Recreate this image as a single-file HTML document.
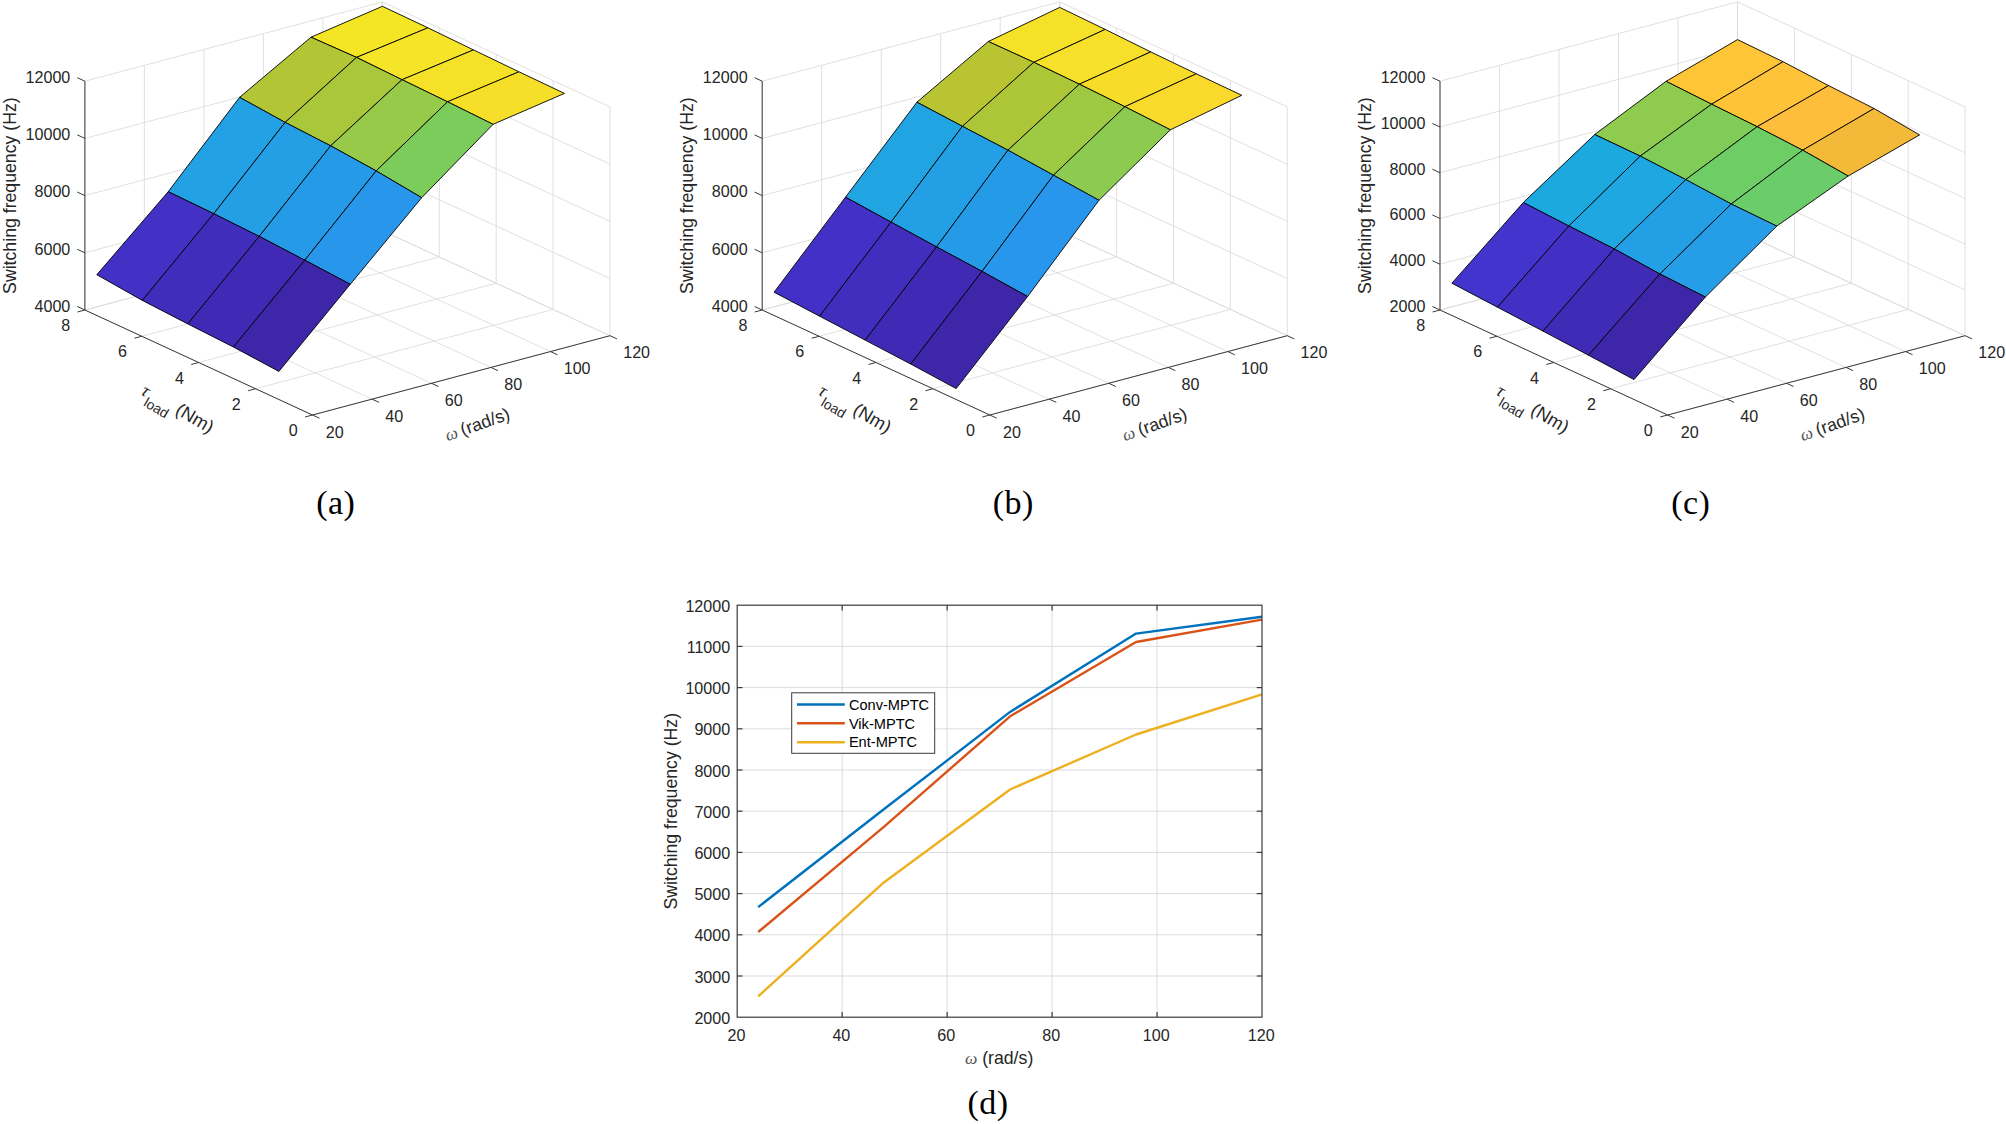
<!DOCTYPE html>
<html lang="en"><head><meta charset="utf-8"><title>Switching frequency figure</title>
<style>html,body{margin:0;padding:0;background:#fff}body{width:2006px;height:1124px;overflow:hidden}svg{display:block}</style>
</head><body>
<svg width="2006" height="1124" viewBox="0 0 2006 1124">
<rect width="2006" height="1124" fill="#fff"/>
<g>
<g stroke-linecap="butt">
<line x1="312.5" y1="415" x2="84.9" y2="310" stroke="#DCDCDC" stroke-width="0.9"/>
<line x1="84.9" y1="310" x2="84.9" y2="81.2" stroke="#DCDCDC" stroke-width="0.9"/>
<line x1="372" y1="399.14" x2="144.4" y2="294.14" stroke="#DCDCDC" stroke-width="0.9"/>
<line x1="144.4" y1="294.14" x2="144.4" y2="65.34" stroke="#DCDCDC" stroke-width="0.9"/>
<line x1="431.5" y1="383.28" x2="203.9" y2="278.28" stroke="#DCDCDC" stroke-width="0.9"/>
<line x1="203.9" y1="278.28" x2="203.9" y2="49.48" stroke="#DCDCDC" stroke-width="0.9"/>
<line x1="491" y1="367.42" x2="263.4" y2="262.42" stroke="#DCDCDC" stroke-width="0.9"/>
<line x1="263.4" y1="262.42" x2="263.4" y2="33.62" stroke="#DCDCDC" stroke-width="0.9"/>
<line x1="550.5" y1="351.56" x2="322.9" y2="246.56" stroke="#DCDCDC" stroke-width="0.9"/>
<line x1="322.9" y1="246.56" x2="322.9" y2="17.76" stroke="#DCDCDC" stroke-width="0.9"/>
<line x1="610" y1="335.7" x2="382.4" y2="230.7" stroke="#DCDCDC" stroke-width="0.9"/>
<line x1="382.4" y1="230.7" x2="382.4" y2="1.9" stroke="#DCDCDC" stroke-width="0.9"/>
<line x1="312.5" y1="415" x2="610" y2="335.7" stroke="#DCDCDC" stroke-width="0.9"/>
<line x1="610" y1="335.7" x2="610" y2="106.9" stroke="#DCDCDC" stroke-width="0.9"/>
<line x1="255.6" y1="388.75" x2="553.1" y2="309.45" stroke="#DCDCDC" stroke-width="0.9"/>
<line x1="553.1" y1="309.45" x2="553.1" y2="80.65" stroke="#DCDCDC" stroke-width="0.9"/>
<line x1="198.7" y1="362.5" x2="496.2" y2="283.2" stroke="#DCDCDC" stroke-width="0.9"/>
<line x1="496.2" y1="283.2" x2="496.2" y2="54.4" stroke="#DCDCDC" stroke-width="0.9"/>
<line x1="141.8" y1="336.25" x2="439.3" y2="256.95" stroke="#DCDCDC" stroke-width="0.9"/>
<line x1="439.3" y1="256.95" x2="439.3" y2="28.15" stroke="#DCDCDC" stroke-width="0.9"/>
<line x1="84.9" y1="310" x2="382.4" y2="230.7" stroke="#DCDCDC" stroke-width="0.9"/>
<line x1="382.4" y1="230.7" x2="382.4" y2="1.9" stroke="#DCDCDC" stroke-width="0.9"/>
<line x1="84.9" y1="310" x2="382.4" y2="230.7" stroke="#DCDCDC" stroke-width="0.9"/>
<line x1="382.4" y1="230.7" x2="610" y2="335.7" stroke="#DCDCDC" stroke-width="0.9"/>
<line x1="84.9" y1="252.8" x2="382.4" y2="173.5" stroke="#DCDCDC" stroke-width="0.9"/>
<line x1="382.4" y1="173.5" x2="610" y2="278.5" stroke="#DCDCDC" stroke-width="0.9"/>
<line x1="84.9" y1="195.6" x2="382.4" y2="116.3" stroke="#DCDCDC" stroke-width="0.9"/>
<line x1="382.4" y1="116.3" x2="610" y2="221.3" stroke="#DCDCDC" stroke-width="0.9"/>
<line x1="84.9" y1="138.4" x2="382.4" y2="59.1" stroke="#DCDCDC" stroke-width="0.9"/>
<line x1="382.4" y1="59.1" x2="610" y2="164.1" stroke="#DCDCDC" stroke-width="0.9"/>
<line x1="84.9" y1="81.2" x2="382.4" y2="1.9" stroke="#DCDCDC" stroke-width="0.9"/>
<line x1="382.4" y1="1.9" x2="610" y2="106.9" stroke="#DCDCDC" stroke-width="0.9"/>
</g>
<g stroke="#000" stroke-width="0.9" stroke-linejoin="round">
<polygon points="311,37.2 356.52,57.4 427.92,27.8 382.4,6.3" fill="#F5E625"/>
<polygon points="356.52,57.4 402.04,79.7 473.44,49.9 427.92,27.8" fill="#F5E427"/>
<polygon points="402.04,79.7 447.56,101.8 518.96,71.8 473.44,49.9" fill="#F5E228"/>
<polygon points="447.56,101.8 493.08,124.3 564.48,93.4 518.96,71.8" fill="#F6DF29"/>
<polygon points="239.6,97.3 285.12,122.4 356.52,57.4 311,37.2" fill="#B2C635"/>
<polygon points="285.12,122.4 330.64,145.8 402.04,79.7 356.52,57.4" fill="#A8C73B"/>
<polygon points="330.64,145.8 376.16,170.9 447.56,101.8 402.04,79.7" fill="#96CA48"/>
<polygon points="376.16,170.9 421.68,197.7 493.08,124.3 447.56,101.8" fill="#7CCC5C"/>
<polygon points="168.2,191.7 213.72,213.7 285.12,122.4 239.6,97.3" fill="#22A1E4"/>
<polygon points="213.72,213.7 259.24,236.4 330.64,145.8 285.12,122.4" fill="#249FE6"/>
<polygon points="259.24,236.4 304.76,260.2 376.16,170.9 330.64,145.8" fill="#259BE8"/>
<polygon points="304.76,260.2 350.28,284.3 421.68,197.7 376.16,170.9" fill="#2896EB"/>
<polygon points="96.8,274.7 142.32,300.4 213.72,213.7 168.2,191.7" fill="#4330C5"/>
<polygon points="142.32,300.4 187.84,323.9 259.24,236.4 213.72,213.7" fill="#412DBC"/>
<polygon points="187.84,323.9 233.36,347 304.76,260.2 259.24,236.4" fill="#402AB5"/>
<polygon points="233.36,347 278.88,371.4 350.28,284.3 304.76,260.2" fill="#3E26A8"/>
</g>
<g stroke-linecap="butt">
<line x1="84.9" y1="310" x2="84.9" y2="81.2" stroke="#3A3A3A" stroke-width="1"/>
<line x1="84.9" y1="310" x2="312.5" y2="415" stroke="#3A3A3A" stroke-width="1"/>
<line x1="312.5" y1="415" x2="610" y2="335.7" stroke="#3A3A3A" stroke-width="1"/>
<line x1="84.9" y1="310" x2="77.27" y2="306.48" stroke="#3A3A3A" stroke-width="1"/>
<line x1="84.9" y1="252.8" x2="77.27" y2="249.28" stroke="#3A3A3A" stroke-width="1"/>
<line x1="84.9" y1="195.6" x2="77.27" y2="192.08" stroke="#3A3A3A" stroke-width="1"/>
<line x1="84.9" y1="138.4" x2="77.27" y2="134.88" stroke="#3A3A3A" stroke-width="1"/>
<line x1="84.9" y1="81.2" x2="77.27" y2="77.68" stroke="#3A3A3A" stroke-width="1"/>
<line x1="312.5" y1="415" x2="305.06" y2="416.98" stroke="#3A3A3A" stroke-width="1"/>
<line x1="255.6" y1="388.75" x2="248.16" y2="390.73" stroke="#3A3A3A" stroke-width="1"/>
<line x1="198.7" y1="362.5" x2="191.26" y2="364.48" stroke="#3A3A3A" stroke-width="1"/>
<line x1="141.8" y1="336.25" x2="134.36" y2="338.23" stroke="#3A3A3A" stroke-width="1"/>
<line x1="84.9" y1="310" x2="77.46" y2="311.98" stroke="#3A3A3A" stroke-width="1"/>
<line x1="312.5" y1="415" x2="319.49" y2="418.23" stroke="#3A3A3A" stroke-width="1"/>
<line x1="372" y1="399.14" x2="378.99" y2="402.37" stroke="#3A3A3A" stroke-width="1"/>
<line x1="431.5" y1="383.28" x2="438.49" y2="386.51" stroke="#3A3A3A" stroke-width="1"/>
<line x1="491" y1="367.42" x2="497.99" y2="370.65" stroke="#3A3A3A" stroke-width="1"/>
<line x1="550.5" y1="351.56" x2="557.49" y2="354.79" stroke="#3A3A3A" stroke-width="1"/>
<line x1="610" y1="335.7" x2="616.99" y2="338.93" stroke="#3A3A3A" stroke-width="1"/>
</g>
<g font-family="'Liberation Sans', Arial, Helvetica, sans-serif" font-size="16.1" fill="#262626">
<text x="70.3" y="311.8" text-anchor="end">4000</text>
<text x="70.3" y="254.6" text-anchor="end">6000</text>
<text x="70.3" y="197.4" text-anchor="end">8000</text>
<text x="70.3" y="140.2" text-anchor="end">10000</text>
<text x="70.3" y="83" text-anchor="end">12000</text>
<text x="297.7" y="436.2" text-anchor="end">0</text>
<text x="240.8" y="409.95" text-anchor="end">2</text>
<text x="183.9" y="383.7" text-anchor="end">4</text>
<text x="127" y="357.45" text-anchor="end">6</text>
<text x="70.1" y="331.2" text-anchor="end">8</text>
<text x="325.7" y="437.5">20</text>
<text x="385.2" y="421.64">40</text>
<text x="444.7" y="405.78">60</text>
<text x="504.2" y="389.92">80</text>
<text x="563.7" y="374.06">100</text>
<text x="623.2" y="358.2">120</text>
</g>
<text transform="translate(16.1,195.6) rotate(-90)" text-anchor="middle" font-family="'Liberation Sans', Arial, Helvetica, sans-serif" font-size="17.7" fill="#262626">Switching frequency (Hz)</text>
<text transform="translate(143.4,405.8) rotate(30.5)" font-family="'Liberation Sans', Arial, Helvetica, sans-serif" font-size="17.7" fill="#262626"><tspan x="-8.9" y="-8.4" font-family="'Liberation Serif', 'DejaVu Serif', serif" font-style="italic" font-size="18.5">τ</tspan><tspan x="-0.9" y="0" font-size="13.8">load</tspan><tspan x="25.4" y="-9.3" font-size="18.3"> (Nm)</tspan></text>
<text transform="translate(448.9,440.8) rotate(-19.5)" font-family="'Liberation Sans', Arial, Helvetica, sans-serif" font-size="17.7" fill="#262626"><tspan x="-1.6" y="0" font-family="'Liberation Serif', 'DejaVu Serif', serif" font-style="italic" font-size="17.5" fill="#555">ω</tspan><tspan x="9.9" y="0"> (rad/s)</tspan></text>
<text x="335.8" y="513.6" text-anchor="middle" font-family="'Liberation Serif', 'DejaVu Serif', serif" font-size="34" letter-spacing="0.4" fill="#000">(a)</text>
</g>
<g>
<g stroke-linecap="butt">
<line x1="989.8" y1="415" x2="762.2" y2="310" stroke="#DCDCDC" stroke-width="0.9"/>
<line x1="762.2" y1="310" x2="762.2" y2="81.2" stroke="#DCDCDC" stroke-width="0.9"/>
<line x1="1049.3" y1="399.14" x2="821.7" y2="294.14" stroke="#DCDCDC" stroke-width="0.9"/>
<line x1="821.7" y1="294.14" x2="821.7" y2="65.34" stroke="#DCDCDC" stroke-width="0.9"/>
<line x1="1108.8" y1="383.28" x2="881.2" y2="278.28" stroke="#DCDCDC" stroke-width="0.9"/>
<line x1="881.2" y1="278.28" x2="881.2" y2="49.48" stroke="#DCDCDC" stroke-width="0.9"/>
<line x1="1168.3" y1="367.42" x2="940.7" y2="262.42" stroke="#DCDCDC" stroke-width="0.9"/>
<line x1="940.7" y1="262.42" x2="940.7" y2="33.62" stroke="#DCDCDC" stroke-width="0.9"/>
<line x1="1227.8" y1="351.56" x2="1000.2" y2="246.56" stroke="#DCDCDC" stroke-width="0.9"/>
<line x1="1000.2" y1="246.56" x2="1000.2" y2="17.76" stroke="#DCDCDC" stroke-width="0.9"/>
<line x1="1287.3" y1="335.7" x2="1059.7" y2="230.7" stroke="#DCDCDC" stroke-width="0.9"/>
<line x1="1059.7" y1="230.7" x2="1059.7" y2="1.9" stroke="#DCDCDC" stroke-width="0.9"/>
<line x1="989.8" y1="415" x2="1287.3" y2="335.7" stroke="#DCDCDC" stroke-width="0.9"/>
<line x1="1287.3" y1="335.7" x2="1287.3" y2="106.9" stroke="#DCDCDC" stroke-width="0.9"/>
<line x1="932.9" y1="388.75" x2="1230.4" y2="309.45" stroke="#DCDCDC" stroke-width="0.9"/>
<line x1="1230.4" y1="309.45" x2="1230.4" y2="80.65" stroke="#DCDCDC" stroke-width="0.9"/>
<line x1="876" y1="362.5" x2="1173.5" y2="283.2" stroke="#DCDCDC" stroke-width="0.9"/>
<line x1="1173.5" y1="283.2" x2="1173.5" y2="54.4" stroke="#DCDCDC" stroke-width="0.9"/>
<line x1="819.1" y1="336.25" x2="1116.6" y2="256.95" stroke="#DCDCDC" stroke-width="0.9"/>
<line x1="1116.6" y1="256.95" x2="1116.6" y2="28.15" stroke="#DCDCDC" stroke-width="0.9"/>
<line x1="762.2" y1="310" x2="1059.7" y2="230.7" stroke="#DCDCDC" stroke-width="0.9"/>
<line x1="1059.7" y1="230.7" x2="1059.7" y2="1.9" stroke="#DCDCDC" stroke-width="0.9"/>
<line x1="762.2" y1="310" x2="1059.7" y2="230.7" stroke="#DCDCDC" stroke-width="0.9"/>
<line x1="1059.7" y1="230.7" x2="1287.3" y2="335.7" stroke="#DCDCDC" stroke-width="0.9"/>
<line x1="762.2" y1="252.8" x2="1059.7" y2="173.5" stroke="#DCDCDC" stroke-width="0.9"/>
<line x1="1059.7" y1="173.5" x2="1287.3" y2="278.5" stroke="#DCDCDC" stroke-width="0.9"/>
<line x1="762.2" y1="195.6" x2="1059.7" y2="116.3" stroke="#DCDCDC" stroke-width="0.9"/>
<line x1="1059.7" y1="116.3" x2="1287.3" y2="221.3" stroke="#DCDCDC" stroke-width="0.9"/>
<line x1="762.2" y1="138.4" x2="1059.7" y2="59.1" stroke="#DCDCDC" stroke-width="0.9"/>
<line x1="1059.7" y1="59.1" x2="1287.3" y2="164.1" stroke="#DCDCDC" stroke-width="0.9"/>
<line x1="762.2" y1="81.2" x2="1059.7" y2="1.9" stroke="#DCDCDC" stroke-width="0.9"/>
<line x1="1059.7" y1="1.9" x2="1287.3" y2="106.9" stroke="#DCDCDC" stroke-width="0.9"/>
</g>
<g stroke="#000" stroke-width="0.9" stroke-linejoin="round">
<polygon points="988.3,41.5 1033.82,62.3 1105.22,29.4 1059.7,7.4" fill="#F5E128"/>
<polygon points="1033.82,62.3 1079.34,84.2 1150.74,51.9 1105.22,29.4" fill="#F6E029"/>
<polygon points="1079.34,84.2 1124.86,106.7 1196.26,73.8 1150.74,51.9" fill="#F7DD2A"/>
<polygon points="1124.86,106.7 1170.38,129.8 1241.78,95.3 1196.26,73.8" fill="#F8D92C"/>
<polygon points="916.9,102.2 962.42,126.3 1033.82,62.3 988.3,41.5" fill="#B8C431"/>
<polygon points="962.42,126.3 1007.94,150.2 1079.34,84.2 1033.82,62.3" fill="#ADC638"/>
<polygon points="1007.94,150.2 1053.46,175.2 1124.86,106.7 1079.34,84.2" fill="#9DC943"/>
<polygon points="1053.46,175.2 1098.98,200.3 1170.38,129.8 1124.86,106.7" fill="#8CCB50"/>
<polygon points="845.5,197.2 891.02,222.1 962.42,126.3 916.9,102.2" fill="#20A5E2"/>
<polygon points="891.02,222.1 936.54,246.9 1007.94,150.2 962.42,126.3" fill="#23A0E5"/>
<polygon points="936.54,246.9 982.06,271.4 1053.46,175.2 1007.94,150.2" fill="#259BE8"/>
<polygon points="982.06,271.4 1027.58,296.5 1098.98,200.3 1053.46,175.2" fill="#2896EC"/>
<polygon points="774.1,292.2 819.62,316.2 891.02,222.1 845.5,197.2" fill="#4331C7"/>
<polygon points="819.62,316.2 865.14,340.1 936.54,246.9 891.02,222.1" fill="#412EBE"/>
<polygon points="865.14,340.1 910.66,364 982.06,271.4 936.54,246.9" fill="#402AB5"/>
<polygon points="910.66,364 956.18,388.6 1027.58,296.5 982.06,271.4" fill="#3E26A8"/>
</g>
<g stroke-linecap="butt">
<line x1="762.2" y1="310" x2="762.2" y2="81.2" stroke="#3A3A3A" stroke-width="1"/>
<line x1="762.2" y1="310" x2="989.8" y2="415" stroke="#3A3A3A" stroke-width="1"/>
<line x1="989.8" y1="415" x2="1287.3" y2="335.7" stroke="#3A3A3A" stroke-width="1"/>
<line x1="762.2" y1="310" x2="754.57" y2="306.48" stroke="#3A3A3A" stroke-width="1"/>
<line x1="762.2" y1="252.8" x2="754.57" y2="249.28" stroke="#3A3A3A" stroke-width="1"/>
<line x1="762.2" y1="195.6" x2="754.57" y2="192.08" stroke="#3A3A3A" stroke-width="1"/>
<line x1="762.2" y1="138.4" x2="754.57" y2="134.88" stroke="#3A3A3A" stroke-width="1"/>
<line x1="762.2" y1="81.2" x2="754.57" y2="77.68" stroke="#3A3A3A" stroke-width="1"/>
<line x1="989.8" y1="415" x2="982.36" y2="416.98" stroke="#3A3A3A" stroke-width="1"/>
<line x1="932.9" y1="388.75" x2="925.46" y2="390.73" stroke="#3A3A3A" stroke-width="1"/>
<line x1="876" y1="362.5" x2="868.56" y2="364.48" stroke="#3A3A3A" stroke-width="1"/>
<line x1="819.1" y1="336.25" x2="811.66" y2="338.23" stroke="#3A3A3A" stroke-width="1"/>
<line x1="762.2" y1="310" x2="754.76" y2="311.98" stroke="#3A3A3A" stroke-width="1"/>
<line x1="989.8" y1="415" x2="996.79" y2="418.23" stroke="#3A3A3A" stroke-width="1"/>
<line x1="1049.3" y1="399.14" x2="1056.29" y2="402.37" stroke="#3A3A3A" stroke-width="1"/>
<line x1="1108.8" y1="383.28" x2="1115.79" y2="386.51" stroke="#3A3A3A" stroke-width="1"/>
<line x1="1168.3" y1="367.42" x2="1175.29" y2="370.65" stroke="#3A3A3A" stroke-width="1"/>
<line x1="1227.8" y1="351.56" x2="1234.79" y2="354.79" stroke="#3A3A3A" stroke-width="1"/>
<line x1="1287.3" y1="335.7" x2="1294.29" y2="338.93" stroke="#3A3A3A" stroke-width="1"/>
</g>
<g font-family="'Liberation Sans', Arial, Helvetica, sans-serif" font-size="16.1" fill="#262626">
<text x="747.6" y="311.8" text-anchor="end">4000</text>
<text x="747.6" y="254.6" text-anchor="end">6000</text>
<text x="747.6" y="197.4" text-anchor="end">8000</text>
<text x="747.6" y="140.2" text-anchor="end">10000</text>
<text x="747.6" y="83" text-anchor="end">12000</text>
<text x="975" y="436.2" text-anchor="end">0</text>
<text x="918.1" y="409.95" text-anchor="end">2</text>
<text x="861.2" y="383.7" text-anchor="end">4</text>
<text x="804.3" y="357.45" text-anchor="end">6</text>
<text x="747.4" y="331.2" text-anchor="end">8</text>
<text x="1003" y="437.5">20</text>
<text x="1062.5" y="421.64">40</text>
<text x="1122" y="405.78">60</text>
<text x="1181.5" y="389.92">80</text>
<text x="1241" y="374.06">100</text>
<text x="1300.5" y="358.2">120</text>
</g>
<text transform="translate(693.4,195.6) rotate(-90)" text-anchor="middle" font-family="'Liberation Sans', Arial, Helvetica, sans-serif" font-size="17.7" fill="#262626">Switching frequency (Hz)</text>
<text transform="translate(820.7,405.8) rotate(30.5)" font-family="'Liberation Sans', Arial, Helvetica, sans-serif" font-size="17.7" fill="#262626"><tspan x="-8.9" y="-8.4" font-family="'Liberation Serif', 'DejaVu Serif', serif" font-style="italic" font-size="18.5">τ</tspan><tspan x="-0.9" y="0" font-size="13.8">load</tspan><tspan x="25.4" y="-9.3" font-size="18.3"> (Nm)</tspan></text>
<text transform="translate(1126.2,440.8) rotate(-19.5)" font-family="'Liberation Sans', Arial, Helvetica, sans-serif" font-size="17.7" fill="#262626"><tspan x="-1.6" y="0" font-family="'Liberation Serif', 'DejaVu Serif', serif" font-style="italic" font-size="17.5" fill="#555">ω</tspan><tspan x="9.9" y="0"> (rad/s)</tspan></text>
<text x="1013.2" y="513.6" text-anchor="middle" font-family="'Liberation Serif', 'DejaVu Serif', serif" font-size="34" letter-spacing="0.4" fill="#000">(b)</text>
</g>
<g>
<g stroke-linecap="butt">
<line x1="1667.6" y1="415" x2="1440" y2="310" stroke="#DCDCDC" stroke-width="0.9"/>
<line x1="1440" y1="310" x2="1440" y2="81.2" stroke="#DCDCDC" stroke-width="0.9"/>
<line x1="1727.1" y1="399.14" x2="1499.5" y2="294.14" stroke="#DCDCDC" stroke-width="0.9"/>
<line x1="1499.5" y1="294.14" x2="1499.5" y2="65.34" stroke="#DCDCDC" stroke-width="0.9"/>
<line x1="1786.6" y1="383.28" x2="1559" y2="278.28" stroke="#DCDCDC" stroke-width="0.9"/>
<line x1="1559" y1="278.28" x2="1559" y2="49.48" stroke="#DCDCDC" stroke-width="0.9"/>
<line x1="1846.1" y1="367.42" x2="1618.5" y2="262.42" stroke="#DCDCDC" stroke-width="0.9"/>
<line x1="1618.5" y1="262.42" x2="1618.5" y2="33.62" stroke="#DCDCDC" stroke-width="0.9"/>
<line x1="1905.6" y1="351.56" x2="1678" y2="246.56" stroke="#DCDCDC" stroke-width="0.9"/>
<line x1="1678" y1="246.56" x2="1678" y2="17.76" stroke="#DCDCDC" stroke-width="0.9"/>
<line x1="1965.1" y1="335.7" x2="1737.5" y2="230.7" stroke="#DCDCDC" stroke-width="0.9"/>
<line x1="1737.5" y1="230.7" x2="1737.5" y2="1.9" stroke="#DCDCDC" stroke-width="0.9"/>
<line x1="1667.6" y1="415" x2="1965.1" y2="335.7" stroke="#DCDCDC" stroke-width="0.9"/>
<line x1="1965.1" y1="335.7" x2="1965.1" y2="106.9" stroke="#DCDCDC" stroke-width="0.9"/>
<line x1="1610.7" y1="388.75" x2="1908.2" y2="309.45" stroke="#DCDCDC" stroke-width="0.9"/>
<line x1="1908.2" y1="309.45" x2="1908.2" y2="80.65" stroke="#DCDCDC" stroke-width="0.9"/>
<line x1="1553.8" y1="362.5" x2="1851.3" y2="283.2" stroke="#DCDCDC" stroke-width="0.9"/>
<line x1="1851.3" y1="283.2" x2="1851.3" y2="54.4" stroke="#DCDCDC" stroke-width="0.9"/>
<line x1="1496.9" y1="336.25" x2="1794.4" y2="256.95" stroke="#DCDCDC" stroke-width="0.9"/>
<line x1="1794.4" y1="256.95" x2="1794.4" y2="28.15" stroke="#DCDCDC" stroke-width="0.9"/>
<line x1="1440" y1="310" x2="1737.5" y2="230.7" stroke="#DCDCDC" stroke-width="0.9"/>
<line x1="1737.5" y1="230.7" x2="1737.5" y2="1.9" stroke="#DCDCDC" stroke-width="0.9"/>
<line x1="1440" y1="310" x2="1737.5" y2="230.7" stroke="#DCDCDC" stroke-width="0.9"/>
<line x1="1737.5" y1="230.7" x2="1965.1" y2="335.7" stroke="#DCDCDC" stroke-width="0.9"/>
<line x1="1440" y1="264.24" x2="1737.5" y2="184.94" stroke="#DCDCDC" stroke-width="0.9"/>
<line x1="1737.5" y1="184.94" x2="1965.1" y2="289.94" stroke="#DCDCDC" stroke-width="0.9"/>
<line x1="1440" y1="218.48" x2="1737.5" y2="139.18" stroke="#DCDCDC" stroke-width="0.9"/>
<line x1="1737.5" y1="139.18" x2="1965.1" y2="244.18" stroke="#DCDCDC" stroke-width="0.9"/>
<line x1="1440" y1="172.72" x2="1737.5" y2="93.42" stroke="#DCDCDC" stroke-width="0.9"/>
<line x1="1737.5" y1="93.42" x2="1965.1" y2="198.42" stroke="#DCDCDC" stroke-width="0.9"/>
<line x1="1440" y1="126.96" x2="1737.5" y2="47.66" stroke="#DCDCDC" stroke-width="0.9"/>
<line x1="1737.5" y1="47.66" x2="1965.1" y2="152.66" stroke="#DCDCDC" stroke-width="0.9"/>
<line x1="1440" y1="81.2" x2="1737.5" y2="1.9" stroke="#DCDCDC" stroke-width="0.9"/>
<line x1="1737.5" y1="1.9" x2="1965.1" y2="106.9" stroke="#DCDCDC" stroke-width="0.9"/>
</g>
<g stroke="#000" stroke-width="0.9" stroke-linejoin="round">
<polygon points="1666.1,81.3 1711.62,104.2 1783.02,61.7 1737.5,39.6" fill="#FEC636"/>
<polygon points="1711.62,104.2 1757.14,126.7 1828.54,85.6 1783.02,61.7" fill="#FEC339"/>
<polygon points="1757.14,126.7 1802.66,150.2 1874.06,108.5 1828.54,85.6" fill="#FEBE3C"/>
<polygon points="1802.66,150.2 1848.18,176 1919.58,134.9 1874.06,108.5" fill="#F2BA38"/>
<polygon points="1594.7,134.5 1640.22,156.1 1711.62,104.2 1666.1,81.3" fill="#8ECB4F"/>
<polygon points="1640.22,156.1 1685.74,179.6 1757.14,126.7 1711.62,104.2" fill="#81CC59"/>
<polygon points="1685.74,179.6 1731.26,204 1802.66,150.2 1757.14,126.7" fill="#6FCD66"/>
<polygon points="1731.26,204 1776.78,226.1 1848.18,176 1802.66,150.2" fill="#6ACD6A"/>
<polygon points="1523.3,202.5 1568.82,226 1640.22,156.1 1594.7,134.5" fill="#1CA9DF"/>
<polygon points="1568.82,226 1614.34,248.9 1685.74,179.6 1640.22,156.1" fill="#1EA7E1"/>
<polygon points="1614.34,248.9 1659.86,274 1731.26,204 1685.74,179.6" fill="#23A0E5"/>
<polygon points="1659.86,274 1705.38,297 1776.78,226.1 1731.26,204" fill="#259DE7"/>
<polygon points="1451.9,283.2 1497.42,307.2 1568.82,226 1523.3,202.5" fill="#4434CE"/>
<polygon points="1497.42,307.2 1542.94,331.1 1614.34,248.9 1568.82,226" fill="#422FC3"/>
<polygon points="1542.94,331.1 1588.46,355.2 1659.86,274 1614.34,248.9" fill="#402BB7"/>
<polygon points="1588.46,355.2 1633.98,379.6 1705.38,297 1659.86,274" fill="#3E26A8"/>
</g>
<g stroke-linecap="butt">
<line x1="1440" y1="310" x2="1440" y2="81.2" stroke="#3A3A3A" stroke-width="1"/>
<line x1="1440" y1="310" x2="1667.6" y2="415" stroke="#3A3A3A" stroke-width="1"/>
<line x1="1667.6" y1="415" x2="1965.1" y2="335.7" stroke="#3A3A3A" stroke-width="1"/>
<line x1="1440" y1="310" x2="1432.37" y2="306.48" stroke="#3A3A3A" stroke-width="1"/>
<line x1="1440" y1="264.24" x2="1432.37" y2="260.72" stroke="#3A3A3A" stroke-width="1"/>
<line x1="1440" y1="218.48" x2="1432.37" y2="214.96" stroke="#3A3A3A" stroke-width="1"/>
<line x1="1440" y1="172.72" x2="1432.37" y2="169.2" stroke="#3A3A3A" stroke-width="1"/>
<line x1="1440" y1="126.96" x2="1432.37" y2="123.44" stroke="#3A3A3A" stroke-width="1"/>
<line x1="1440" y1="81.2" x2="1432.37" y2="77.68" stroke="#3A3A3A" stroke-width="1"/>
<line x1="1667.6" y1="415" x2="1660.16" y2="416.98" stroke="#3A3A3A" stroke-width="1"/>
<line x1="1610.7" y1="388.75" x2="1603.26" y2="390.73" stroke="#3A3A3A" stroke-width="1"/>
<line x1="1553.8" y1="362.5" x2="1546.36" y2="364.48" stroke="#3A3A3A" stroke-width="1"/>
<line x1="1496.9" y1="336.25" x2="1489.46" y2="338.23" stroke="#3A3A3A" stroke-width="1"/>
<line x1="1440" y1="310" x2="1432.56" y2="311.98" stroke="#3A3A3A" stroke-width="1"/>
<line x1="1667.6" y1="415" x2="1674.59" y2="418.23" stroke="#3A3A3A" stroke-width="1"/>
<line x1="1727.1" y1="399.14" x2="1734.09" y2="402.37" stroke="#3A3A3A" stroke-width="1"/>
<line x1="1786.6" y1="383.28" x2="1793.59" y2="386.51" stroke="#3A3A3A" stroke-width="1"/>
<line x1="1846.1" y1="367.42" x2="1853.09" y2="370.65" stroke="#3A3A3A" stroke-width="1"/>
<line x1="1905.6" y1="351.56" x2="1912.59" y2="354.79" stroke="#3A3A3A" stroke-width="1"/>
<line x1="1965.1" y1="335.7" x2="1972.09" y2="338.93" stroke="#3A3A3A" stroke-width="1"/>
</g>
<g font-family="'Liberation Sans', Arial, Helvetica, sans-serif" font-size="16.1" fill="#262626">
<text x="1425.4" y="311.8" text-anchor="end">2000</text>
<text x="1425.4" y="266.04" text-anchor="end">4000</text>
<text x="1425.4" y="220.28" text-anchor="end">6000</text>
<text x="1425.4" y="174.52" text-anchor="end">8000</text>
<text x="1425.4" y="128.76" text-anchor="end">10000</text>
<text x="1425.4" y="83" text-anchor="end">12000</text>
<text x="1652.8" y="436.2" text-anchor="end">0</text>
<text x="1595.9" y="409.95" text-anchor="end">2</text>
<text x="1539" y="383.7" text-anchor="end">4</text>
<text x="1482.1" y="357.45" text-anchor="end">6</text>
<text x="1425.2" y="331.2" text-anchor="end">8</text>
<text x="1680.8" y="437.5">20</text>
<text x="1740.3" y="421.64">40</text>
<text x="1799.8" y="405.78">60</text>
<text x="1859.3" y="389.92">80</text>
<text x="1918.8" y="374.06">100</text>
<text x="1978.3" y="358.2">120</text>
</g>
<text transform="translate(1371.2,195.6) rotate(-90)" text-anchor="middle" font-family="'Liberation Sans', Arial, Helvetica, sans-serif" font-size="17.7" fill="#262626">Switching frequency (Hz)</text>
<text transform="translate(1498.5,405.8) rotate(30.5)" font-family="'Liberation Sans', Arial, Helvetica, sans-serif" font-size="17.7" fill="#262626"><tspan x="-8.9" y="-8.4" font-family="'Liberation Serif', 'DejaVu Serif', serif" font-style="italic" font-size="18.5">τ</tspan><tspan x="-0.9" y="0" font-size="13.8">load</tspan><tspan x="25.4" y="-9.3" font-size="18.3"> (Nm)</tspan></text>
<text transform="translate(1804,440.8) rotate(-19.5)" font-family="'Liberation Sans', Arial, Helvetica, sans-serif" font-size="17.7" fill="#262626"><tspan x="-1.6" y="0" font-family="'Liberation Serif', 'DejaVu Serif', serif" font-style="italic" font-size="17.5" fill="#555">ω</tspan><tspan x="9.9" y="0"> (rad/s)</tspan></text>
<text x="1690.7" y="513.6" text-anchor="middle" font-family="'Liberation Serif', 'DejaVu Serif', serif" font-size="34" letter-spacing="0.4" fill="#000">(c)</text>
</g>
<g>
<g stroke="#DCDCDC" stroke-width="1">
<line x1="842.16" y1="605.2" x2="842.16" y2="1017.2"/>
<line x1="947.12" y1="605.2" x2="947.12" y2="1017.2"/>
<line x1="1052.08" y1="605.2" x2="1052.08" y2="1017.2"/>
<line x1="1157.04" y1="605.2" x2="1157.04" y2="1017.2"/>
<line x1="737.2" y1="976" x2="1262" y2="976"/>
<line x1="737.2" y1="934.8" x2="1262" y2="934.8"/>
<line x1="737.2" y1="893.6" x2="1262" y2="893.6"/>
<line x1="737.2" y1="852.4" x2="1262" y2="852.4"/>
<line x1="737.2" y1="811.2" x2="1262" y2="811.2"/>
<line x1="737.2" y1="770" x2="1262" y2="770"/>
<line x1="737.2" y1="728.8" x2="1262" y2="728.8"/>
<line x1="737.2" y1="687.6" x2="1262" y2="687.6"/>
<line x1="737.2" y1="646.4" x2="1262" y2="646.4"/>
</g>
<g fill="none" stroke-width="2.4" stroke-linejoin="round" stroke-linecap="butt">
<polyline stroke="#0072BD" points="758.19,907.11 884.14,809.06 1010.1,711.91 1136.05,633.59 1262,616.69"/>
<polyline stroke="#D95319" points="758.19,932 884.14,826.61 1010.1,716.32 1136.05,641.99 1262,619.62"/>
<polyline stroke="#EDB120" points="758.19,996.31 884.14,882.19 1010.1,789.49 1136.05,734.49 1262,694.48"/>
</g>
<g stroke="#3A3A3A" stroke-width="1.2" fill="none">
<rect x="737.2" y="605.2" width="524.8" height="412"/>
<line x1="842.16" y1="1017.2" x2="842.16" y2="1011.9"/>
<line x1="842.16" y1="605.2" x2="842.16" y2="610.5"/>
<line x1="947.12" y1="1017.2" x2="947.12" y2="1011.9"/>
<line x1="947.12" y1="605.2" x2="947.12" y2="610.5"/>
<line x1="1052.08" y1="1017.2" x2="1052.08" y2="1011.9"/>
<line x1="1052.08" y1="605.2" x2="1052.08" y2="610.5"/>
<line x1="1157.04" y1="1017.2" x2="1157.04" y2="1011.9"/>
<line x1="1157.04" y1="605.2" x2="1157.04" y2="610.5"/>
<line x1="737.2" y1="976" x2="742.5" y2="976"/>
<line x1="1262" y1="976" x2="1256.7" y2="976"/>
<line x1="737.2" y1="934.8" x2="742.5" y2="934.8"/>
<line x1="1262" y1="934.8" x2="1256.7" y2="934.8"/>
<line x1="737.2" y1="893.6" x2="742.5" y2="893.6"/>
<line x1="1262" y1="893.6" x2="1256.7" y2="893.6"/>
<line x1="737.2" y1="852.4" x2="742.5" y2="852.4"/>
<line x1="1262" y1="852.4" x2="1256.7" y2="852.4"/>
<line x1="737.2" y1="811.2" x2="742.5" y2="811.2"/>
<line x1="1262" y1="811.2" x2="1256.7" y2="811.2"/>
<line x1="737.2" y1="770" x2="742.5" y2="770"/>
<line x1="1262" y1="770" x2="1256.7" y2="770"/>
<line x1="737.2" y1="728.8" x2="742.5" y2="728.8"/>
<line x1="1262" y1="728.8" x2="1256.7" y2="728.8"/>
<line x1="737.2" y1="687.6" x2="742.5" y2="687.6"/>
<line x1="1262" y1="687.6" x2="1256.7" y2="687.6"/>
<line x1="737.2" y1="646.4" x2="742.5" y2="646.4"/>
<line x1="1262" y1="646.4" x2="1256.7" y2="646.4"/>
</g>
<g font-family="'Liberation Sans', Arial, Helvetica, sans-serif" font-size="16.1" fill="#262626">
<text x="730.2" y="1023.8" text-anchor="end">2000</text>
<text x="730.2" y="982.6" text-anchor="end">3000</text>
<text x="730.2" y="941.4" text-anchor="end">4000</text>
<text x="730.2" y="900.2" text-anchor="end">5000</text>
<text x="730.2" y="859" text-anchor="end">6000</text>
<text x="730.2" y="817.8" text-anchor="end">7000</text>
<text x="730.2" y="776.6" text-anchor="end">8000</text>
<text x="730.2" y="735.4" text-anchor="end">9000</text>
<text x="730.2" y="694.2" text-anchor="end">10000</text>
<text x="730.2" y="653" text-anchor="end">11000</text>
<text x="730.2" y="611.8" text-anchor="end">12000</text>
<text x="736.4" y="1040.6" text-anchor="middle">20</text>
<text x="841.36" y="1040.6" text-anchor="middle">40</text>
<text x="946.32" y="1040.6" text-anchor="middle">60</text>
<text x="1051.28" y="1040.6" text-anchor="middle">80</text>
<text x="1156.24" y="1040.6" text-anchor="middle">100</text>
<text x="1261.2" y="1040.6" text-anchor="middle">120</text>
</g>
<text transform="translate(676.8,811.2) rotate(-90)" text-anchor="middle" font-family="'Liberation Sans', Arial, Helvetica, sans-serif" font-size="17.7" fill="#262626">Switching frequency (Hz)</text>
<text x="999.1" y="1063.9" text-anchor="middle" font-family="'Liberation Sans', Arial, Helvetica, sans-serif" font-size="17.7" fill="#262626"><tspan font-family="'Liberation Serif', 'DejaVu Serif', serif" font-style="italic" font-size="17.5" fill="#555">ω</tspan> (rad/s)</text>
<rect x="791.7" y="692.8" width="143" height="60.5" fill="#fff" stroke="#3A3A3A" stroke-width="1"/>
<line x1="797" y1="704.5" x2="844.8" y2="704.5" stroke="#0072BD" stroke-width="2.4"/>
<text x="848.9" y="709.7" font-family="'Liberation Sans', Arial, Helvetica, sans-serif" font-size="14.6" fill="#000">Conv-MPTC</text>
<line x1="797" y1="723.3" x2="844.8" y2="723.3" stroke="#D95319" stroke-width="2.4"/>
<text x="848.9" y="728.5" font-family="'Liberation Sans', Arial, Helvetica, sans-serif" font-size="14.6" fill="#000">Vik-MPTC</text>
<line x1="797" y1="742.2" x2="844.8" y2="742.2" stroke="#EDB120" stroke-width="2.4"/>
<text x="848.9" y="747.4" font-family="'Liberation Sans', Arial, Helvetica, sans-serif" font-size="14.6" fill="#000">Ent-MPTC</text>
<text x="988" y="1114.3" text-anchor="middle" font-family="'Liberation Serif', 'DejaVu Serif', serif" font-size="34" letter-spacing="0.4" fill="#000">(d)</text>
</g>
</svg>
</body></html>
